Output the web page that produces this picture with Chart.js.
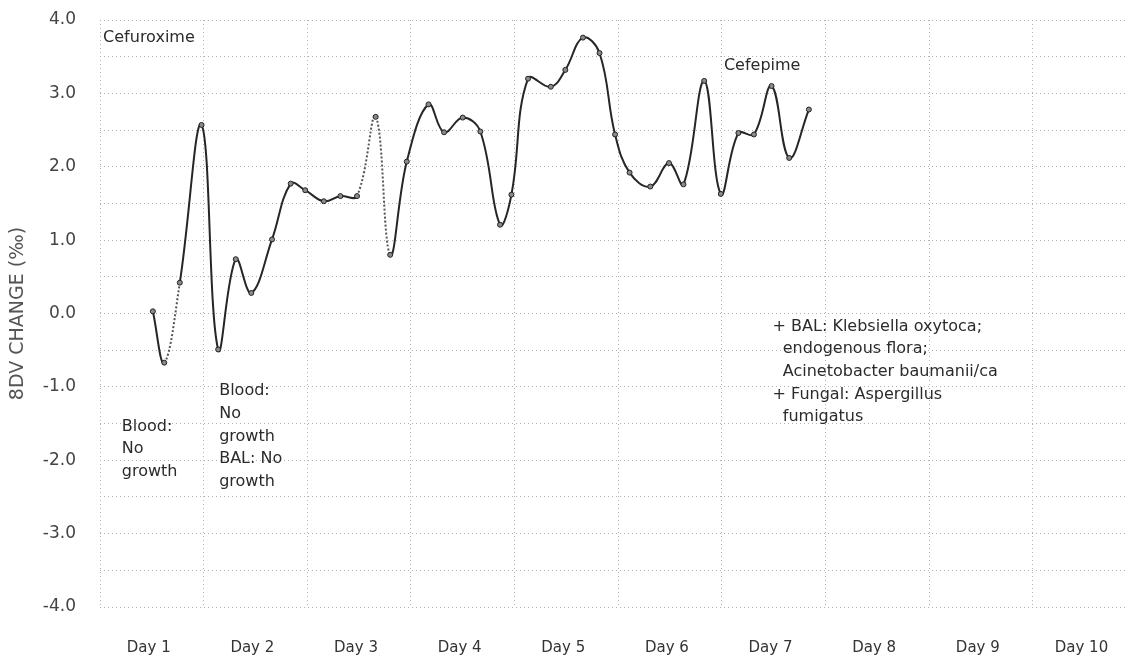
<!DOCTYPE html>
<html>
<head>
<meta charset="utf-8">
<script src="https://cdn.jsdelivr.net/npm/chart.js@4"></script>
<style>
  body { margin: 0; background: #fff; }
  canvas { display: block; }
</style>
</head>
<body>
<canvas id="grafico" width="1131" height="662"></canvas>
<script>
// days on the x axis, one label per day
const dayLabels = ['Day 1', 'Day 2', 'Day 3', 'Day 4', 'Day 5', 'Day 6', 'Day 7', 'Day 8', 'Day 9', 'Day 10'];

// time of each measurement (days since start) and the BDV change
const sampleDays = [0.51, 0.62, 0.77, 0.98, 1.14, 1.31, 1.46, 1.66, 1.84, 1.98,
                    2.16, 2.32, 2.48, 2.66, 2.80, 2.96, 3.17, 3.32, 3.50, 3.67,
                    3.86, 3.97, 4.13, 4.35, 4.49, 4.66, 4.82, 4.97, 5.11, 5.31,
                    5.49, 5.63, 5.83, 5.99, 6.16, 6.31, 6.48, 6.65, 6.84];
const bdvChange = [0.03, -0.67, 0.42, 2.57, -0.49, 0.74, 0.28, 1.01, 1.77, 1.68,
                   1.53, 1.60, 1.60, 2.68, 0.80, 2.07, 2.85, 2.47, 2.67, 2.48,
                   1.21, 1.62, 3.20, 3.09, 3.32, 3.76, 3.55, 2.44, 1.92, 1.73,
                   2.05, 1.76, 3.17, 1.63, 2.46, 2.44, 3.10, 2.12, 2.78];

// segments that come out lighter / dotted
const fadedSegments = [1, 12, 13];

// notes written on the chart (x in days, y in BDV units of first line)
const notes = [
    { x: 0.03, y: 3.76, lines: ['Cefuroxime'] },
    { x: 6.02, y: 3.37, lines: ['Cefepime'] },
    { x: 0.21, y: -1.54, lines: ['Blood:', 'No', 'growth'] },
    { x: 1.15, y: -1.06, lines: ['Blood:', 'No', 'growth', 'BAL: No', 'growth'] },
    { x: 6.49, y: -0.18, lines: ['+ BAL: Klebsiella oxytoca;', '  endogenous flora;', '  Acinetobacter baumanii/ca',
                                  '+ Fungal: Aspergillus', '  fumigatus'] }
];

const gridDash = [1, 3];
const gridColor = '#b0b0b0';

const notesPlugin = {
    id: 'notes',
    afterDatasetsDraw(chart) {
        const ctx = chart.ctx;
        const xs = chart.scales.x, ys = chart.scales.y;
        ctx.save();
        ctx.font = '16px "DejaVu Sans"';
        ctx.fillStyle = '#2b2b2b';
        ctx.textBaseline = 'middle';
        ctx.textAlign = 'left';
        notes.forEach(n => {
            const px = xs.getPixelForValue(n.x);
            const py = ys.getPixelForValue(n.y);
            n.lines.forEach((t, i) => ctx.fillText(t, px, py + i * 22.6));
        });
        ctx.restore();
    }
};

const labelPos = dayLabels.map((d, i) => i + 0.47);

const chart = new Chart(document.getElementById('grafico'), {
    type: 'line',
    data: {
        datasets: [{
            data: sampleDays.map((d, i) => ({ x: d, y: bdvChange[i] })),
            borderColor: '#262626',
            borderWidth: 2,
            tension: 0.4,
            pointRadius: 2.5,
            pointBackgroundColor: '#8a8a8a',
            pointBorderColor: '#222',
            pointBorderWidth: 1,
            segment: {
                borderColor: c => fadedSegments.includes(c.p0DataIndex) ? '#555' : undefined,
                borderDash: c => fadedSegments.includes(c.p0DataIndex) ? [2, 2] : undefined
            }
        }]
    },
    options: {
        responsive: false,
        animation: false,
        layout: { padding: { top: 20, bottom: 0, left: 0, right: 0 } },
        plugins: { legend: { display: false }, tooltip: { enabled: false } },
        scales: {
            x: {
                type: 'linear',
                min: 0,
                max: 9.9,
                afterBuildTicks: scale => {
                    const t = [];
                    for (let i = 0; i < 10; i++) t.push({ value: i });
                    labelPos.forEach(v => t.push({ value: v }));
                    scale.ticks = t;
                },
                afterFit: s => { s.height = 55; s.paddingLeft = 0; s.paddingRight = 0; },
                ticks: {
                    autoSkip: false,
                    maxRotation: 0,
                    padding: 32,
                    color: '#333',
                    font: { family: 'DejaVu Sans', size: 15 },
                    callback: (v) => {
                        const k = labelPos.indexOf(v);
                        return k >= 0 ? dayLabels[k] : '';
                    }
                },
                grid: {
                    drawTicks: false,
                    color: c => (c.tick && Number.isInteger(c.tick.value)) ? gridColor : 'rgba(0,0,0,0)',
                    lineWidth: 1
                },
                border: { display: false, dash: gridDash }
            },
            y: {
                min: -4,
                max: 4,
                afterFit: s => { s.width = 100; s.paddingTop = 0; s.paddingBottom = 0; },
                ticks: {
                    stepSize: 0.5,
                    padding: 24,
                    color: '#444',
                    font: { family: 'DejaVu Sans', size: 17 },
                    callback: v => (Math.abs(v % 1) < 1e-9) ? v.toFixed(1) : ''
                },
                grid: { drawTicks: false, color: gridColor, lineWidth: 1 },
                border: { display: false, dash: gridDash },
                title: {
                    display: true,
                    text: '8DV CHANGE (‰)',
                    color: '#555',
                    font: { family: 'DejaVu Sans', size: 19 },
                    padding: { top: 7, bottom: 0 }
                }
            }
        }
    },
    plugins: [notesPlugin]
});
</script>
</body>
</html>
